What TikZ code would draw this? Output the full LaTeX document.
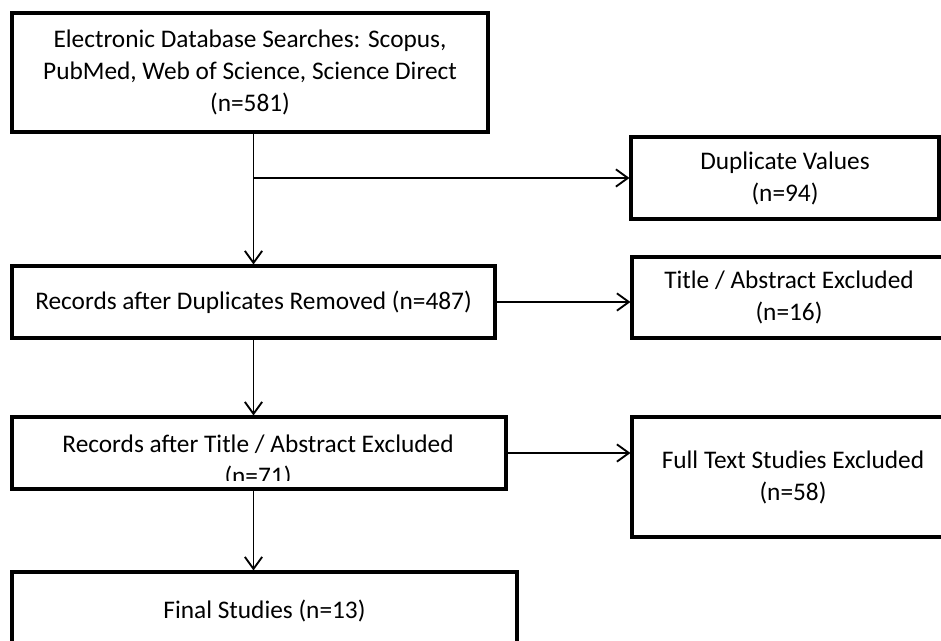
\documentclass[tikz,border=0pt]{standalone}
\usepackage{fontspec}
\setmainfont{Carlito}
\usetikzlibrary{arrows.meta}
\begin{document}
\begin{tikzpicture}[x=0.75pt,y=-0.75pt,
  box/.style={draw=black, line width=2.3pt, rectangle, inner sep=0pt, align=center,
              font=\fontsize{19}{24}\selectfont},
  txt/.style={inner sep=0pt, align=center, font=\fontsize{19}{24}\selectfont},
  conn/.style={draw=black, line width=1.4pt, -{Straight Barb[length=9pt,width=13pt,line width=1.4pt]}}]
\clip (0,0) rectangle (941,641);
\node[box, minimum width=357pt, minimum height=89.25pt] (b1) at (250,72.5)
  {Electronic Database Searches: Scopus,\\PubMed, Web of Science, Science Direct\\(n=581)};
\node[box, minimum width=231pt, minimum height=61.5pt] (dup) at (785,178)
  {Duplicate Values\\(n=94)};
\node[box, minimum width=362.25pt, minimum height=54pt] (b2) at (253.5,302)
  {Records after Duplicates Removed (n=487)};
\node[box, minimum width=235.5pt, minimum height=60.75pt] (tae) at (789,297.5)
  {Title / Abstract Excluded\\(n=16)};
\node[box, minimum width=370.5pt, minimum height=54pt] (b3) at (259,453) {};
\begin{scope}
  \clip (14,419) rectangle (504,480);
  \node[txt] (b3t) at (258,461) {Records after Title / Abstract Excluded\\(n=71)};
\end{scope}
\node[box, minimum width=241.5pt, minimum height=90pt] (fte) at (793,477)
  {Full Text Studies Excluded\\(n=58)};
\node[box, minimum width=378.75pt, minimum height=58.5pt] (b4) at (264.5,611)
  {Final Studies (n=13)};
\coordinate (br) at (b2.north |- dup.west);
\draw[conn] (b2.north |- b1.south) -- (b2.north);
\draw[conn] (br) -- (dup.west);
\draw[conn] (b2.east) -- (b2.east -| tae.west);
\draw[conn] (b2.south) -- (b2.south |- b3.north);
\draw[conn] (b3.east) -- (b3.east -| fte.west);
\draw[conn] (b2.south |- b3.south) -- (b2.south |- b4.north);
\end{tikzpicture}
\end{document}
